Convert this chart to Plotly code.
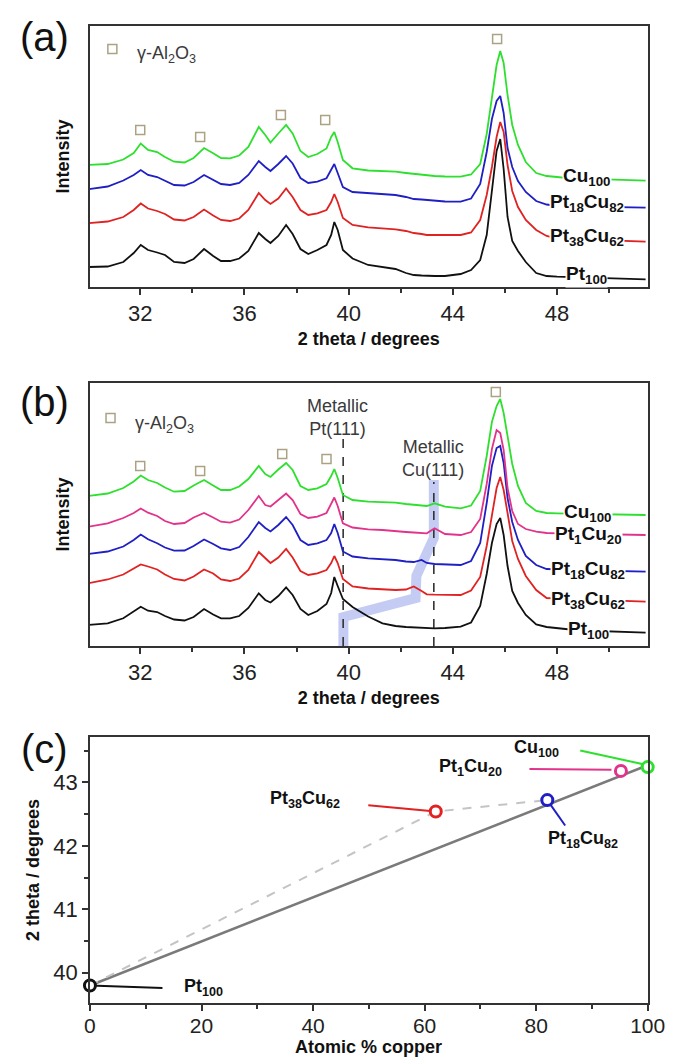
import plotly.graph_objects as go

# ---------------- data ----------------
theta = [30.0, 30.75, 31.35, 31.75, 32.02, 32.3, 32.65, 32.95, 33.3, 33.7,
         34.05, 34.45, 34.8, 35.1, 35.45, 35.8, 36.15, 36.55, 36.8, 37.0,
         37.3, 37.6, 37.85, 38.15, 38.45, 38.8, 39.15, 39.33, 39.45, 39.58,
         39.78, 40.15, 40.75, 41.3, 41.8, 42.2, 42.5, 42.8, 43.0, 43.3,
         43.7, 44.3, 44.7, 45.05, 45.3, 45.5, 45.68, 45.82, 45.95, 46.1,
         46.28, 46.5, 46.8, 47.2, 47.6, 48.0, 48.5, 49.0, 49.5, 50.0,
         50.7, 51.4]

# panel (a)
a_pt100 = [20, 20.5, 25, 34, 42, 37, 34.5, 32, 25, 24,
           28, 38, 31, 26, 26, 28.5, 36, 54, 48, 44,
           51, 62, 53, 38, 33, 37, 42, 52, 65, 57,
           37, 28.5, 22, 20, 18, 14, 12, 11.5, 11, 11,
           11, 13, 17, 27, 52, 95, 136, 148, 118, 70,
           46, 36, 25, 14, 11, 10.3, 10, 9.5, 9, 8.7,
           8.3, 7.7]
a_pt38cu62 = [63.7, 65.5, 70, 77, 83.5, 78.5, 76, 73, 67.5, 66.5,
              70, 77.5, 71.5, 67, 66, 68.5, 77, 94, 87, 83,
              88.5, 98.5, 90, 77, 72, 73.7, 77, 85, 93, 85,
              69, 62, 59.7, 58.5, 57.7, 56, 54, 53, 52, 52,
              52, 52, 54.5, 67, 92, 120, 150, 165, 155, 122,
              96, 80, 67, 57, 51, 48.5, 48, 47.5, 47.3, 47,
              46, 45.3]
a_pt18cu82 = [97.7, 100.5, 106.5, 112, 117, 112, 110, 106, 102, 101.5,
              105, 112, 107.5, 103, 102, 104, 112, 126, 120, 116,
              123, 131, 123.5, 109, 104, 105.3, 108.7, 118, 123, 114,
              100, 95, 93.7, 93, 92, 90, 88, 87.5, 87, 86,
              85.5, 85.3, 88.5, 103, 135, 168, 186, 191, 174, 139,
              120, 106, 95, 86, 82.5, 81, 80.8, 80.5, 80.3, 80.3,
              79.7, 79.3]
a_cu100 = [122, 123, 127.5, 134, 143.5, 137, 135, 130, 125.3, 124.5,
           129, 139, 133.7, 129, 128.7, 131.5, 140, 160, 152, 144.5,
           153.5, 162, 153.5, 136, 130, 133, 138.5, 150, 155, 145,
           127, 118.7, 116.5, 115.8, 115.3, 114, 113, 112.5, 112, 111,
           110.5, 110.3, 112.5, 123, 153, 190, 222, 236, 224, 192,
           162, 142, 125, 114, 111, 110, 108.7, 108.3, 108, 107.7,
           107, 106.3]

# panel (b)
b_pt100 = [21, 22.7, 27.7, 34.3, 39.3, 35.3, 34, 30, 26.5, 25.5,
           29, 37, 31.5, 27.7, 27.7, 30, 38, 52.7, 46, 43.5,
           50, 58.7, 51, 37, 31, 35, 42, 53, 69, 60,
           47, 39, 29.5, 22.7, 20, 19, 18.5, 18, 17.7, 17.7,
           18, 19.3, 23.5, 40, 72, 103, 122, 128, 111, 80,
           55, 43, 31, 21.5, 19, 17.7, 16.5, 15.5, 15, 14.7,
           14, 13.3]
b_pt38cu62 = [62.7, 66.5, 71.5, 77.7, 81.5, 79.5, 76.5, 71.5, 67, 65.5,
              69.5, 76.5, 72.5, 66.5, 65, 67.5, 76, 94, 88, 83,
              88.5, 97, 88.5, 75, 71, 72.7, 76, 83, 90, 83,
              67, 59.5, 57.5, 56.5, 56, 56.5, 59.5, 55, 51.7, 51.3,
              51, 51, 55.5, 69, 100, 130, 158, 169, 156, 133,
              105, 87, 70, 56, 48, 47.5, 47, 46.5, 46.3, 46,
              45, 44.3]
b_pt18cu82 = [92, 94.5, 99.5, 106, 111.5, 106.7, 102.7, 98.5, 95.3, 95.5,
              100, 106.5, 102, 97.7, 96, 99, 109, 124, 118, 114.5,
              121, 129, 121, 106, 101, 102.7, 106, 113, 122, 113,
              94.5, 89.5, 87.7, 87, 86, 84.5, 84, 86, 83, 82,
              81.5, 81, 85, 103, 143, 180, 198, 200, 183, 148,
              124, 106, 90, 81, 77, 76.5, 76, 75.8, 75.5, 75.3,
              74.8, 74.3]
b_pt1cu20 = [119.3, 122.7, 128, 133, 137.5, 133.3, 130, 125, 122, 123,
             128.5, 133, 128.5, 124.3, 123.3, 126.5, 136, 150, 141, 139.5,
             146, 152.5, 146, 132, 128, 129.3, 133, 142, 148.5, 140,
             122.7, 118.5, 116.7, 116, 115.3, 114, 113.5, 113, 112.7, 117.7,
             112, 111, 114, 127, 162, 197, 216, 213, 196, 158,
             135, 122, 117, 114.3, 113, 112.7, 112.5, 112.3, 112, 112,
             111.5, 111]
b_cu100 = [150, 152.5, 158, 164.5, 170.5, 166, 163, 158.5, 154.3, 155,
           160.5, 166, 160.5, 156, 156, 159.5, 167, 180, 172, 169,
           176.5, 183, 176, 160, 156, 157.7, 162, 170, 177, 168,
           151, 146, 144.3, 143.7, 143.3, 142, 141, 140.5, 140, 142.7,
           139.3, 137.7, 140.5, 155, 190, 224, 240, 247, 233, 210,
           182, 160, 143, 135, 133, 132.7, 132.5, 132.3, 132, 132,
           131.5, 131]

# gamma-Al2O3 reflections (square markers)
a_sq_x = [32.0, 34.3, 37.4, 39.1, 45.7]
a_sq_y = [157, 150, 172, 167, 248]
b_sq_x = [32.0, 34.3, 37.45, 39.15, 45.65]
b_sq_y = [180, 175, 192, 187, 254]

# metallic reference reflections
pt111 = 39.79
cu111 = 43.27
shift_x = [39.8, 39.8, 42.57, 42.6, 43.27, 43.27]
shift_y = [0, 29, 48, 70, 108, 166]

# panel (c)
comp = [0, 62, 82, 95.2, 100]
peak = [39.80, 42.54, 42.72, 43.18, 43.24]
vegard_x = [0, 100]
vegard_y = [39.80, 43.27]

names = ["Pt<sub>100</sub>", "Pt<sub>38</sub>Cu<sub>62</sub>",
         "Pt<sub>18</sub>Cu<sub>82</sub>", "Pt<sub>1</sub>Cu<sub>20</sub>",
         "Cu<sub>100</sub>"]
colors = ["#111111", "#e02222", "#1f1fc4", "#e2338a", "#2ee02e"]

# ---------------- figure ----------------
fig = go.Figure()
TICKFONT = dict(family="Liberation Sans Narrow, Liberation Sans, Arial", size=22, color="#222")
LBL = dict(family="Liberation Sans, Arial", size=19, color="#111")
LBLC = dict(family="Liberation Sans, Arial", size=18, color="#111")
SQ = "#aaa283"

def curve(x, y, color, xa, ya):
    fig.add_trace(go.Scatter(x=x, y=y, mode="lines", xaxis=xa, yaxis=ya,
                             line=dict(color=color, width=1.8), hoverinfo="skip"))

# (a)
for ys, c in zip([a_pt100, a_pt38cu62, a_pt18cu82, a_cu100],
                 [colors[0], colors[1], colors[2], colors[4]]):
    curve(theta, ys, c, "x", "y")
fig.add_trace(go.Scatter(x=a_sq_x + [30.93], y=a_sq_y + [238], mode="markers",
                         xaxis="x", yaxis="y",
                         marker=dict(symbol="square-open", size=9, color=SQ,
                                     line=dict(width=1.5, color=SQ))))

# (b)
fig.add_trace(go.Scatter(x=shift_x, y=shift_y, mode="lines", xaxis="x2", yaxis="y2",
                         line=dict(color="#c4ccf3", width=10)))
for xv, top in [(pt111, 207), (cu111, 164)]:
    fig.add_trace(go.Scatter(x=[xv, xv], y=[0, top], mode="lines", xaxis="x2", yaxis="y2",
                             line=dict(color="#333", width=1.6, dash="dash")))
for ys, c in zip([b_pt100, b_pt38cu62, b_pt18cu82, b_pt1cu20, b_cu100], colors):
    curve(theta, ys, c, "x2", "y2")
fig.add_trace(go.Scatter(x=b_sq_x + [30.86], y=b_sq_y + [228], mode="markers",
                         xaxis="x2", yaxis="y2",
                         marker=dict(symbol="square-open", size=9, color=SQ,
                                     line=dict(width=1.5, color=SQ))))

# (c)
fig.add_trace(go.Scatter(x=vegard_x, y=vegard_y, mode="lines", xaxis="x3", yaxis="y3",
                         line=dict(color="#7a7a7a", width=2.5)))
fig.add_trace(go.Scatter(x=comp[:3], y=peak[:3], mode="lines", xaxis="x3", yaxis="y3",
                         line=dict(color="#c4c4c4", width=2, dash="dash")))
leaders = [([0, 13], [39.80, 39.76]), ([49.9, 62], [42.64, 42.54]),
           ([82, 85.2], [42.72, 42.32]), ([78.8, 93.5], [43.21, 43.20]),
           ([87.9, 100], [43.50, 43.27])]
for (lx, ly), c in zip(leaders, colors):
    fig.add_trace(go.Scatter(x=lx, y=ly, mode="lines", xaxis="x3", yaxis="y3",
                             line=dict(color=c, width=2)))
fig.add_trace(go.Scatter(x=comp, y=peak, mode="markers", xaxis="x3", yaxis="y3",
                         cliponaxis=False,
                         marker=dict(symbol="circle", size=11, color="white",
                                     line=dict(width=3, color=colors))))

TITLEF = dict(family="Liberation Sans, Arial", size=18, color="#111")
ann = []
# panel letters
for txt, yy in [("(a)", 37), ("(b)", 402), ("(c)", 749)]:
    ann.append(dict(text=txt, xref="paper", yref="paper", x=40 / 685, y=1 - yy / 1059,
                    showarrow=False, xanchor="center", yanchor="middle",
                    font=dict(family="Liberation Sans, Arial", size=40, color="#111")))
# x title of panel (c)
ann.append(dict(text="<b>Atomic % copper</b>", xref="paper", yref="paper",
                x=376 / 685, y=1 - 1047 / 1059, xanchor="center", yanchor="middle",
                showarrow=False, font=TITLEF))
# curve labels (a)
for name, yy in zip([names[4], names[2], names[1], names[0]], [110, 84, 50, 12]):
    ann.append(dict(text="<b>%s</b>" % name, x=49.14, y=yy, xref="x", yref="y",
                    showarrow=False, bgcolor="white", borderpad=0, font=LBL))
# curve labels (b)
for name, yy in zip([names[4], names[3], names[2], names[1], names[0]], [133, 111, 76, 46, 16]):
    ann.append(dict(text="<b>%s</b>" % name, x=49.2, y=yy, xref="x2", yref="y2",
                    showarrow=False, bgcolor="white", borderpad=0, font=LBL))
# legend texts
LEG = dict(family="Liberation Sans, Arial", size=18, color="#3a3a3a")
ann.append(dict(text="γ-Al<sub>2</sub>O<sub>3</sub>", x=31.78, y=233, xref="x", yref="y",
                xanchor="left", showarrow=False, font=LEG))
ann.append(dict(text="γ-Al<sub>2</sub>O<sub>3</sub>", x=31.71, y=222, xref="x2", yref="y2",
                xanchor="left", showarrow=False, font=LEG))
ann.append(dict(text="Metallic<br>Pt(111)", x=39.57, y=229, xref="x2", yref="y2",
                showarrow=False, font=LEG))
ann.append(dict(text="Metallic<br>Cu(111)", x=43.24, y=188, xref="x2", yref="y2",
                showarrow=False, font=LEG))
# labels (c)
for name, lx, ly in zip(names, [20.3, 38.5, 88.4, 68.2, 80.1],
                        [39.77, 42.73, 42.10, 43.24, 43.53]):
    ann.append(dict(text="<b>%s</b>" % name, x=lx, y=ly, xref="x3", yref="y3",
                    showarrow=False, font=LBLC))

XD = [87 / 685, 665 / 685]
AX = dict(showline=True, mirror=True, linecolor="#333", linewidth=1.5, showgrid=False,
          zeroline=False, ticks="outside", ticklen=6, tickwidth=1.5, tickcolor="#333",
          tickfont=TICKFONT)

xtheta = dict(AX, range=[30.07, 51.48], domain=XD, tick0=32, dtick=4,
              minor=dict(ticks="outside", ticklen=4, tick0=30, dtick=2, tickcolor="#333"),
              title=dict(text="<b>2 theta / degrees</b>", font=TITLEF, standoff=7))
yint = dict(AX, ticks="", showticklabels=False,
            title=dict(text="<b>Intensity</b>", font=TITLEF, standoff=14))

fig.update_layout(
    width=685, height=1059, margin=dict(l=0, r=0, t=0, b=0),
    paper_bgcolor="white", plot_bgcolor="white", showlegend=False,
    xaxis=dict(xtheta, anchor="y"),
    yaxis=dict(yint, domain=[1 - 287 / 1059, 1 - 26 / 1059], range=[0, 261], anchor="x"),
    xaxis2=dict(xtheta, anchor="y2"),
    yaxis2=dict(yint, domain=[1 - 646 / 1059, 1 - 383 / 1059], range=[0, 263], anchor="x2"),
    xaxis3=dict(AX, range=[0, 100], domain=XD, anchor="y3", dtick=20,
                tickfont=dict(TICKFONT, size=21), ticklabelstandoff=-3,
                minor=dict(ticks="outside", ticklen=4, dtick=10, tickcolor="#333")),
    yaxis3=dict(AX, range=[39.524, 43.714], domain=[1 - 1003 / 1059, 1 - 737 / 1059],
                anchor="x3", dtick=1,
                minor=dict(ticks="outside", ticklen=4, dtick=0.5, tickcolor="#333"),
                title=dict(text="<b>2 theta / degrees</b>", font=TITLEF, standoff=9)),
    annotations=ann,
)

# the page's default 8 px body margin would push the 685x1059 figure off the window
fig.write_html("out.html", config={"displayModeBar": False},
               post_script="document.body.style.margin='0px';")
